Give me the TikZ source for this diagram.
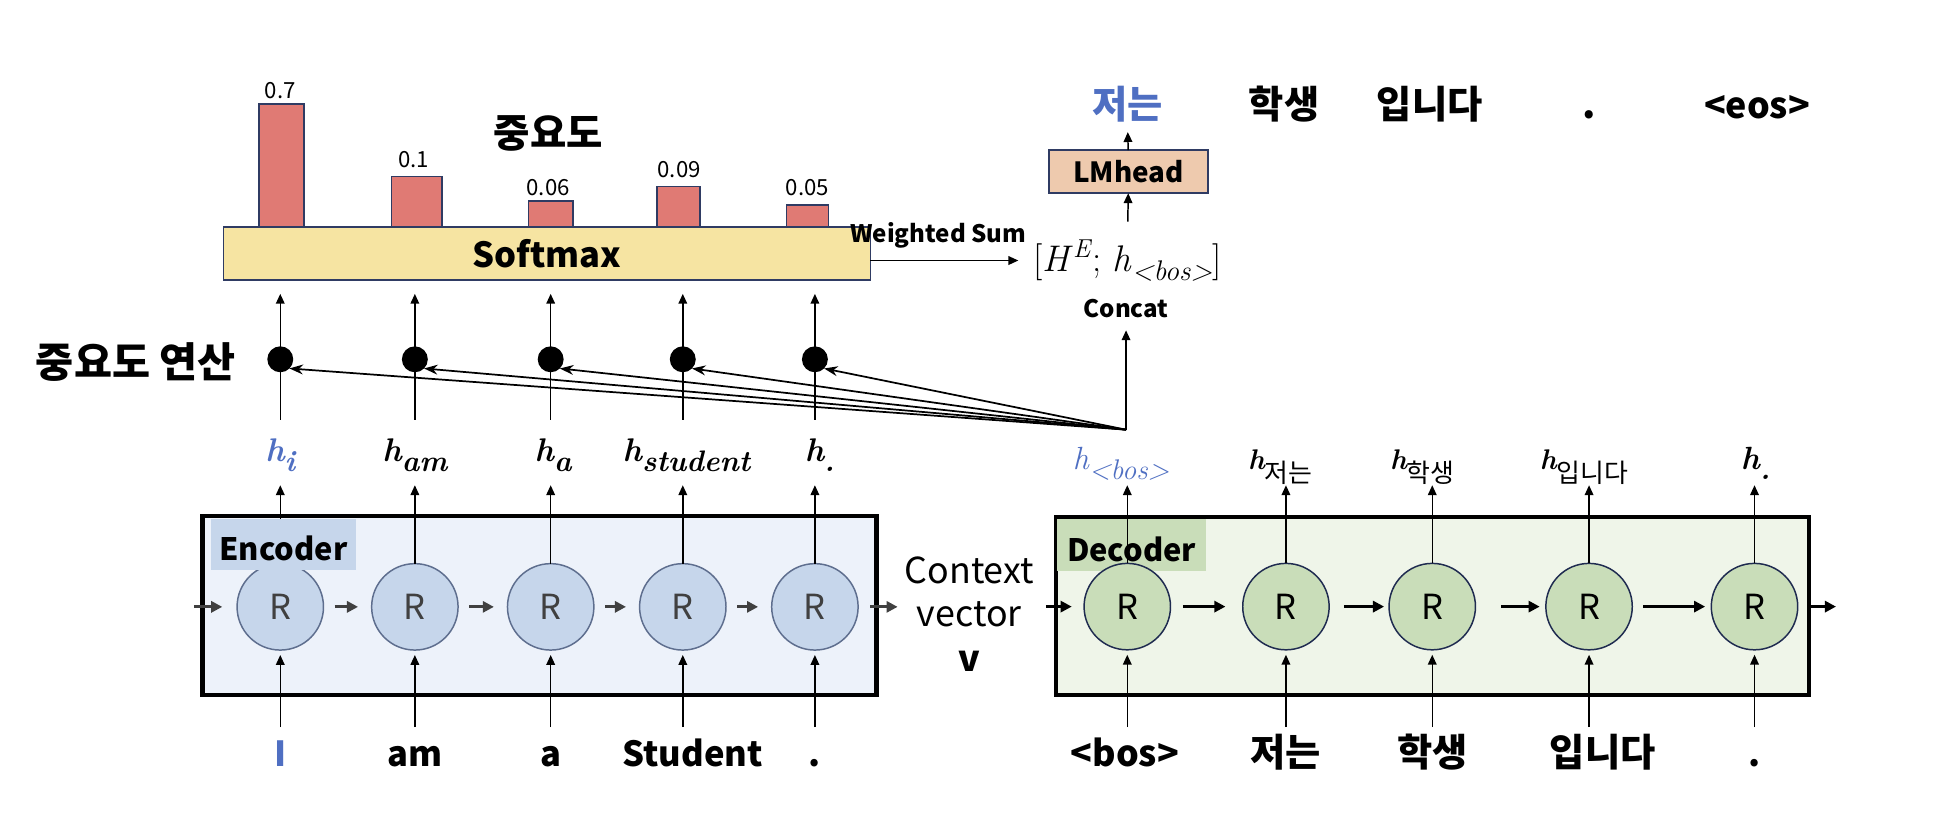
\documentclass[tikz,border=0pt]{standalone}
\usepackage{fontspec}
\setmainfont{Noto Sans CJK KR}
\newfontfamily\lmr{Latin Modern Roman}
\usetikzlibrary{arrows.meta}
\definecolor{navy}{HTML}{2F3B63}
\definecolor{barred}{HTML}{E07A74}
\definecolor{softy}{HTML}{F6E4A2}
\definecolor{lmpeach}{HTML}{EECAAE}
\definecolor{encbg}{HTML}{EDF2FA}
\definecolor{encfill}{HTML}{C6D6EB}
\definecolor{encline}{HTML}{5E6E8E}
\definecolor{decbg}{HTML}{EFF5E9}
\definecolor{decfill}{HTML}{C9DDB9}
\definecolor{decline}{HTML}{1F2B50}
\definecolor{hblue}{HTML}{4F6FC2}
\definecolor{rgray}{HTML}{404040}
\newcommand{\fsz}[1]{\fontsize{#1}{#1}\selectfont}
% bold italic h with subscript
\newcommand{\hb}[1]{{\lmr\bfseries\itshape h\raisebox{-8pt}{\fsz{24}#1}}}
% regular italic h with subscript
\newcommand{\hr}[1]{{\lmr\itshape h\raisebox{-8pt}{\fsz{23}#1}}}
% h with a Korean subscript
\newcommand{\hk}[1]{{\lmr\bfseries\itshape\fsz{23}h}\raisebox{-11pt}{\fsz{21}#1}}
\begin{document}
\begin{tikzpicture}[x=1pt,y=-1pt,
  every node/.style={inner sep=0pt,outer sep=0pt},
  thinarr/.style={line width=1.2pt,-{Triangle[length=8pt,width=7pt]}},
  attn/.style={line width=1.4pt,-{Stealth[length=11pt,width=8pt]}},
  encstep/.style={line width=2.2pt,draw=rgray,-{Triangle[length=9pt,width=9pt]}},
  decstep/.style={line width=2.2pt,-{Triangle[length=9pt,width=9pt]}},
  barbox/.style={draw=navy,fill=barred,line width=1.4pt,anchor=north west},
  numlab/.style={font=\fsz{18},anchor=base},
  bigbold/.style={font=\fsz{32}\bfseries},
  inword/.style={font=\fsz{28}\bfseries,anchor=north,text height=21pt,text depth=5pt,inner ysep=11pt},
  kword/.style={inword,font=\fsz{31}\bfseries},
  topword/.style={font=\fsz{31}\bfseries,anchor=base,text depth=2pt},
  hlab/.style={font=\fsz{26.5},anchor=base,text height=11pt,text depth=13pt,inner ysep=6pt},
  glab/.style={font=\fsz{26},anchor=base,text height=17pt,text depth=7pt,inner ysep=6pt},
  encR/.style={circle,minimum size=70pt,draw=encline,fill=encfill,line width=1.2pt,text=rgray,font=\fsz{28}},
  decR/.style={circle,minimum size=70pt,draw=decline,fill=decfill,line width=1.2pt,font=\fsz{28}},
  adot/.style={circle,fill=black,minimum size=21pt},
  boxlab/.style={font=\fsz{25}\bfseries,text height=27pt,minimum height=42pt},
]
\useasboundingbox (0,0) rectangle (1568,658);

% ---------- attention bars ----------
\node[barbox,minimum width=36pt,minimum height=101pt] (b1) at (210,84) {};
\node[barbox,minimum width=41pt,minimum height=42pt] (b2) at (317,143) {};
\node[barbox,minimum width=36pt,minimum height=23pt] (b3) at (428,163) {};
\node[barbox,minimum width=35pt,minimum height=34pt] (b4) at (532,151) {};
\node[barbox,minimum width=34pt,minimum height=19pt] (b5) at (637,166) {};
\node[numlab] (n1) at (227,79.5) {0.7};
\node[numlab] (n2) at (335,136) {0.1};
\node[numlab] (n3) at (444,158) {0.06};
\node[numlab] (n4) at (550,144) {0.09};
\node[numlab] (n5) at (654,158) {0.05};
\node[bigbold] (imp) at (444,108) {중요도};

% ---------- softmax ----------
\node[draw=navy,fill=softy,line width=1.4pt,minimum width=524pt,minimum height=43pt,font=\fsz{28}\bfseries] (sm) at (443,205.5) {Softmax};

% ---------- top right ----------
\node[font=\fsz{30}] (hcat) at (913,211) {{\lmr [\textit{H}\raisebox{11pt}{\fsz{21}\textit{E}}; \textit{h}\raisebox{-7pt}{\fsz{23}\textit{<bos>}}]}};
\node[font=\fsz{19.5}\bfseries] (concat) at (912,250) {Concat};
\node[draw=navy,fill=lmpeach,line width=1.4pt,minimum width=129pt,minimum height=35pt,font=\fsz{22.5}\bfseries] (lm) at (914,139) {LMhead};
\node[topword,text=hblue] (o1) at (913,96) {저는};
\node[topword] (o2) at (1040,96) {학생};
\node[topword] (o3) at (1158,96) {입니다};
\node[topword] (o4) at (1287,96) {.};
\node[topword,font=\fsz{29}\bfseries] (o5) at (1423,96) {<eos>};
\draw[thinarr,shorten >=12pt] (sm.east |- hcat) -- (hcat);
\node[font=\fsz{19.5}\bfseries] (wsum) at (760,191) {Weighted Sum};
\draw[thinarr,shorten <=15pt] (hcat) -- (lm);
\draw[thinarr,shorten >=9pt] (lm) -- (o1);

% ---------- boxes ----------
\node[draw=black,line width=3.5pt,fill=encbg,minimum width=546pt,minimum height=145pt] (enc) at (437,490.5) {};
\node[draw=black,line width=3.5pt,fill=decbg,minimum width=610pt,minimum height=144.5pt] (dec) at (1160,490.75) {};

% ---------- encoder ----------
\node[encR] (e1) at (227,491.5) {R};
\node[encR] (e2) at (336,491.5) {R};
\node[encR] (e3) at (446,491.5) {R};
\node[encR] (e4) at (553,491.5) {R};
\node[encR] (e5) at (660,491.5) {R};

\node[hlab,text=hblue] (h1) at (227,374) {\hb{i}};
\node[hlab] (h2) at (336,374) {\hb{am}};
\node[hlab] (h3) at (448,374) {\hb{a}};
\node[hlab] (h4) at (556,374) {\hb{student}};
\node[hlab] (h5) at (664,374) {\hb{.}};

\foreach \i in {1,...,5}{
  \draw[thinarr] (e\i) -- (e\i |- h\i.south);
}
\node[fill=encfill,boxlab,minimum width=117pt] (enclab) at (229.5,441) {Encoder};

\node[inword,text=hblue] (w1) at (227,589) {I};
\node[inword] (w2) at (336,589) {am};
\node[inword] (w3) at (446,589) {a};
\node[inword] (w4) at (561,589) {Student};
\node[inword] (w5) at (660,589) {.};
\foreach \i in {1,...,5}{
  \draw[thinarr,shorten >=4pt] (e\i |- w\i.north) -- (e\i);
}

\coordinate (ein) at (157,491.5);
\coordinate (eout) at (727,491.5);
\draw[encstep,shorten >=12pt] (ein) -- (e1);
\draw[encstep,shorten <=9pt,shorten >=11pt] (e1) -- (e2);
\draw[encstep,shorten <=9pt,shorten >=11pt] (e2) -- (e3);
\draw[encstep,shorten <=9pt,shorten >=11pt] (e3) -- (e4);
\draw[encstep,shorten <=9pt,shorten >=11pt] (e4) -- (e5);
\draw[encstep,shorten <=10pt] (e5) -- (eout);

% ---------- context vector ----------
\node[font=\fsz{29},anchor=base] (ctx1) at (785,472.5) {Context};
\node[font=\fsz{29},anchor=base] (ctx2) at (785,507.5) {vector};
\node[font=\fsz{29}\bfseries,anchor=base] (ctx3) at (785,544) {v};

% ---------- decoder ----------
\node[fill=decfill,boxlab,minimum width=121pt] (declab) at (916.5,441.5) {Decoder};

\node[glab,text=hblue] (g1) at (908,380) {\hr{<bos>}};
\node[glab] (g2) at (1037,380) {\hk{저는}};
\node[glab] (g3) at (1152,380) {\hk{학생}};
\node[glab] (g4) at (1283,380) {\hk{입니다}};
\node[glab] (g5) at (1422,380) {\hb{.}};

\node[decR] (d1) at (913,491.3) {R};
\node[decR] (d2) at (1041.5,491.3) {R};
\node[decR] (d3) at (1160,491.3) {R};
\node[decR] (d4) at (1287,491.3) {R};
\node[decR] (d5) at (1421,491.3) {R};
\foreach \i in {1,...,5}{
  \draw[thinarr] (d\i) -- (d\i |- g\i.south);
}

\node[inword,font=\fsz{29}\bfseries] (v1) at (911,589) {<bos>};
\node[kword] (v2) at (1041,589) {저는};
\node[kword] (v3) at (1160,589) {학생};
\node[kword] (v4) at (1298,589) {입니다};
\node[inword] (v5) at (1421,589) {.};
\foreach \i in {1,...,5}{
  \draw[thinarr,shorten >=4pt] (d\i |- v\i.north) -- (d\i);
}

\coordinate (din) at (847,491.3);
\coordinate (dout) at (1487,491.3);
\draw[decstep,shorten >=10pt] (din) -- (d1);
\draw[decstep,shorten <=10pt,shorten >=14pt] (d1) -- (d2);
\draw[decstep,shorten <=12pt,shorten >=4pt] (d2) -- (d3);
\draw[decstep,shorten <=21pt,shorten >=5pt] (d3) -- (d4);
\draw[decstep,shorten <=9pt,shorten >=5pt] (d4) -- (d5);
\draw[decstep,shorten <=10pt] (d5) -- (dout);

% ---------- attention scoring ----------
\node[bigbold,font=\fsz{33.5}\bfseries] (calc) at (110,293) {중요도 연산};
\foreach \i/\x in {1/227,2/336,3/446,4/553,5/660}{
  \draw[thinarr,shorten <=17pt,shorten >=11pt] (h\i.north -| e\i) -- (sm.south -| e\i);
  \node[adot] (a\i) at (\x,291) {};
}
\coordinate (conv) at (912,348);
\foreach \i in {1,...,5}{
  \draw[attn] (conv) -- (a\i.south east);
}
\draw[thinarr,shorten >=10pt] (conv) -- (concat);

\end{tikzpicture}
\end{document}
